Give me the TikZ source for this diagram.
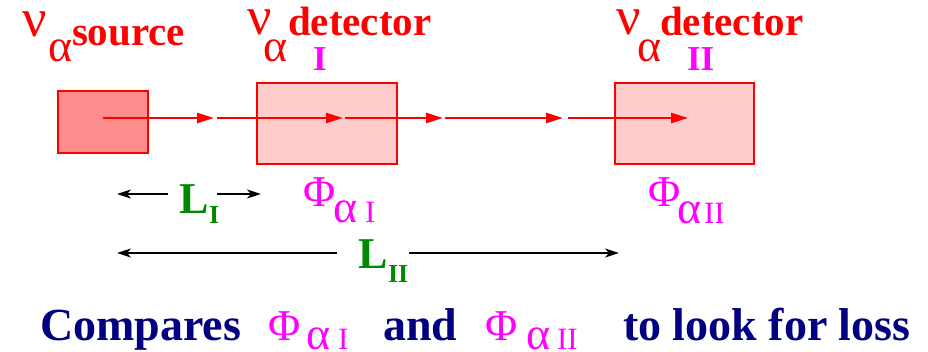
\documentclass[tikz,border=0pt]{standalone}
\usepackage{fontspec}
\setmainfont{Liberation Serif}
\usetikzlibrary{arrows.meta}
\definecolor{srcfill}{RGB}{255,140,140}
\definecolor{detfill}{RGB}{255,204,204}
\definecolor{tgreen}{RGB}{0,136,0}
\definecolor{tnavy}{RGB}{0,0,128}
\definecolor{tmag}{RGB}{255,0,255}
\definecolor{tred}{RGB}{255,0,0}
\newcommand{\fs}[1]{\fontsize{#1}{#1}\selectfont}
\begin{document}
\begin{tikzpicture}[x=1pt,y=-1pt,
  txt/.style={inner sep=0pt, outer sep=0pt, anchor=base west},
  redtxt/.style={txt, text=tred, font=\fs{41}\bfseries},
  nu/.style={txt, text=tred, font=\fs{54}},
  alsub/.style={txt, text=tred, font=\fs{46}},
  romtop/.style={txt, text=tmag, font=\fs{35}\bfseries},
  phi/.style={txt, text=tmag, font=\fs{44}},
  phial/.style={txt, text=tmag, font=\fs{46}},
  phisub/.style={txt, text=tmag, font=\fs{31}},
  ltxt/.style={txt, text=tgreen, font=\fs{44}\bfseries},
  lsub/.style={txt, text=tgreen, font=\fs{26}\bfseries},
  bottxt/.style={txt, text=tnavy, font=\fs{46}\bfseries},
  srcbox/.style={draw=tred, line width=2.5pt, fill=srcfill, inner sep=0pt},
  detbox/.style={draw=tred, line width=2.5pt, fill=detfill, inner sep=0pt},
  beam/.style={draw=tred, line width=2.5pt, -{Triangle[length=17pt,width=10pt]}},
  dist/.style={draw=black, line width=2pt, -{Stealth[length=14pt,width=9pt,inset=4pt]}}
]
\useasboundingbox (0,0) rectangle (928,352);

% boxes
\node[srcbox, minimum width=90pt, minimum height=62pt] (src) at (103,122) {};
\node[detbox, minimum width=140pt, minimum height=81pt] (det1) at (327,123.5) {};
\node[detbox, minimum width=139pt, minimum height=81pt] (det2) at (684.5,123.5) {};

% beam coordinates
\coordinate (b0) at (103,118);
\coordinate (b1) at (214,118);
\coordinate (b2) at (217,118);
\coordinate (b3) at (343,118);
\coordinate (b4) at (345,118);
\coordinate (b5) at (443,118);
\coordinate (b6) at (445,118);
\coordinate (b7) at (563,118);
\coordinate (b8) at (568,118);
\coordinate (b9) at (688,118);
\draw[beam] (b0) -- (b1);
\draw[beam] (b2) -- (b3);
\draw[beam] (b4) -- (b5);
\draw[beam] (b6) -- (b7);
\draw[beam] (b8) -- (b9);

% top labels
\node[nu] (nu0) at (22,37) {ν};
\node[alsub] (al0) at (48,62) {α};
\node[redtxt] (srclab) at (72,46) {source};

\node[nu] (nu1) at (247,35) {ν};
\node[alsub] (al1) at (263,62) {α};
\node[redtxt] (det1lab) at (288,36) {detector};
\node[romtop] (rom1) at (313,71) {I};

\node[nu] (nu2) at (616,35) {ν};
\node[alsub] (al2) at (637,62) {α};
\node[redtxt] (det2lab) at (660,36) {detector};
\node[romtop] (rom2) at (687,71) {II};

% fluxes
\node[phi] (phi1) at (303,207) {Φ};
\node[phial] (phi1a) at (333,223) {α};
\node[phisub] (phi1b) at (365,223) {I};
\node[phi] (phi2) at (648,207) {Φ};
\node[phial] (phi2a) at (677,224) {α};
\node[phisub] (phi2b) at (704,224) {II};

% L_I
\node[ltxt] (LI) at (179,214) {L};
\node[lsub] (LIs) at (209,224) {I};
\coordinate (l1a) at (168,194);
\coordinate (l1b) at (117,194);
\coordinate (l1c) at (217,194);
\coordinate (l1d) at (261,194);
\draw[dist] (l1a) -- (l1b);
\draw[dist] (l1c) -- (l1d);

% L_II
\node[ltxt] (LII) at (358,269) {L};
\node[lsub] (LIIs) at (388,283) {II};
\coordinate (l2a) at (337,253);
\coordinate (l2b) at (117,253);
\coordinate (l2c) at (409,253);
\coordinate (l2d) at (619,253);
\draw[dist] (l2a) -- (l2b);
\draw[dist] (l2c) -- (l2d);

% bottom line
\node[bottxt] (cmp) at (40,340) {Compares};
\node[phi] (bphi1) at (268,340) {Φ};
\node[phial] (bphi1a) at (306,349) {α};
\node[phisub] (bphi1b) at (338,349) {I};
\node[bottxt] (and) at (383,340) {and};
\node[phi] (bphi2) at (485,340) {Φ};
\node[phial] (bphi2a) at (526,349) {α};
\node[phisub] (bphi2b) at (557,349) {II};
\node[bottxt] (look) at (623,340) {to look for loss};
\end{tikzpicture}
\end{document}
